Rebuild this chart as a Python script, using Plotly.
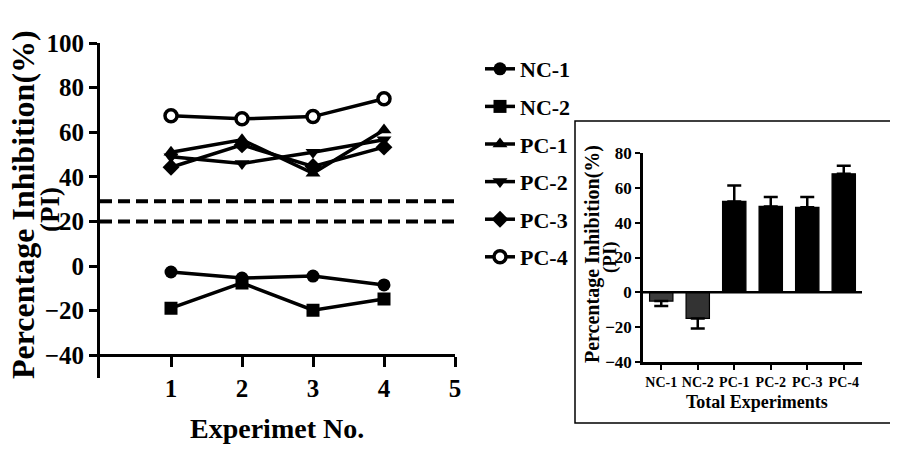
import plotly.graph_objects as go

W, H = 898, 452
OFF = 8  # page body margin offset compensation
def px(x): return (x - OFF) / W
def py(y): return 1 - (y - OFF) / H

# ---------------- data ----------------
experiments = [1, 2, 3, 4]
series_names = ["NC-1", "NC-2", "PC-1", "PC-2", "PC-3", "PC-4"]
nc1 = [-2.7, -5.4, -4.5, -8.5]
nc2 = [-18.9, -7.6, -19.8, -14.8]
pc1 = [51.0, 56.6, 41.6, 61.0]
pc2 = [49.0, 46.0, 51.0, 56.6]
pc3 = [44.3, 54.3, 44.6, 53.3]
pc4 = [67.4, 66.0, 67.0, 75.0]
thresholds = [29, 20]

bar_categories = ["NC-1", "NC-2", "PC-1", "PC-2", "PC-3", "PC-4"]
bar_means = [-5.0, -15.0, 52.2, 49.3, 48.8, 68.1]
bar_errors = [2.9, 5.7, 9.2, 5.4, 5.9, 4.6]

main_yticks = [-40, -20, 0, 20, 40, 60, 80, 100]
main_xticks = [1, 2, 3, 4, 5]
inset_yticks = [-40, -20, 0, 20, 40, 60, 80]

FONT = "Liberation Serif"
symbols = ["circle", "square", "triangle-up", "triangle-down", "diamond", "circle"]
all_series = [nc1, nc2, pc1, pc2, pc3, pc4]

fig = go.Figure()
for i, (name, vals, sym) in enumerate(zip(series_names, all_series, symbols)):
    open_marker = name == "PC-4"
    fig.add_trace(go.Scatter(
        x=experiments, y=vals, name=name, mode="lines+markers",
        legendgroup=name,
        line=dict(color="black", width=3.5),
        marker=dict(symbol=sym, size=12 if open_marker else 13,
                    color="white" if open_marker else "black",
                    line=dict(color="black", width=3.5 if open_marker else 0)),
        xaxis="x", yaxis="y",
    ))

# inset bars
bar_colors = ["#3d3d3d", "#333333", "black", "black", "black", "black"]
err_plus = [e if m > 0 else 0 for m, e in zip(bar_means, bar_errors)]
err_minus = [e if m < 0 else 0 for m, e in zip(bar_means, bar_errors)]
fig.add_trace(go.Bar(
    x=bar_categories, y=bar_means, width=0.64, showlegend=False,
    marker=dict(color=bar_colors, line=dict(color="black", width=1.2)),
    error_y=dict(type="data", symmetric=False, array=err_plus, arrayminus=err_minus,
                 color="black", thickness=2.5, width=7),
    xaxis="x2", yaxis="y2",
))

shapes = []
for t in thresholds:
    shapes.append(dict(type="line", xref="x", yref="y", x0=0, x1=5, y0=t, y1=t,
                       line=dict(color="black", width=4, dash="12px,6px")))
# zero line in inset
shapes.append(dict(type="line", xref="x2", yref="y2", x0=-0.5, x1=5.5, y0=0, y1=0,
                   line=dict(color="black", width=2.5)))
# inset frame
shapes.append(dict(type="rect", xref="paper", yref="paper",
                   x0=px(575), x1=px(895), y0=py(423), y1=py(121),
                   line=dict(color="black", width=1.5)))

bold = dict(family=FONT, color="black", weight="bold")
annotations = [
    dict(text="Percentage Inhibition(%)", x=px(23), y=py(205), textangle=-90,
         font=dict(size=32, **bold)),
    dict(text="(PI)", x=px(50), y=py(210), textangle=-90, font=dict(size=27, **bold)),
    dict(text="Experimet No.", x=px(277), y=py(428), font=dict(size=28, **bold)),
    dict(text="Percentage Inhibition(%)", x=px(593), y=py(254), textangle=-90,
         font=dict(size=20, **bold)),
    dict(text="(PI)", x=px(610), y=py(257), textangle=-90, font=dict(size=19, **bold)),
    dict(text="Total Experiments", x=px(757), y=py(402), font=dict(size=18, **bold)),
]
for a in annotations:
    a.update(xref="paper", yref="paper", showarrow=False, xanchor="center", yanchor="middle")

fig.update_layout(
    width=W, height=H, margin=dict(l=0, r=0, t=0, b=0, autoexpand=False),
    paper_bgcolor="white", plot_bgcolor="white",
    font=dict(family=FONT, color="black"),
    xaxis=dict(domain=[px(100), px(455)], range=[0, 5], tickvals=main_xticks,
               anchor="free", position=py(355.2), showgrid=False, zeroline=False,
               showline=True, linecolor="black", linewidth=3,
               ticks="outside", ticklen=10, tickwidth=3, tickcolor="black",
               tickfont=dict(size=25, **bold)),
    yaxis=dict(domain=[py(377.5), py(43)], range=[-50, 100], tickvals=main_yticks,
               anchor="x", showgrid=False, zeroline=False,
               showline=True, linecolor="black", linewidth=3,
               ticks="outside", ticklen=8, tickwidth=3, tickcolor="black",
               tickfont=dict(size=25, **bold)),
    xaxis2=dict(domain=[px(643), px(862)], range=[-0.5, 5.5], anchor="y2",
                showgrid=False, zeroline=False, showline=True, linecolor="black",
                linewidth=2.5, ticks="outside", ticklen=5, tickwidth=2, tickcolor="black",
                tickfont=dict(size=14, **bold), type="category"),
    yaxis2=dict(domain=[py(362), py(153)], range=[-40, 80], tickvals=inset_yticks,
                anchor="x2", showgrid=False, zeroline=False, showline=True,
                linecolor="black", linewidth=2.5, ticks="outside", ticklen=5,
                tickwidth=2, tickcolor="black", tickfont=dict(size=17, **bold)),
    legend=dict(x=px(480), y=py(48), xanchor="left", yanchor="top",
                font=dict(size=22, **bold), tracegroupgap=6,
                bgcolor="rgba(0,0,0,0)", itemwidth=30),
    shapes=shapes, annotations=annotations,
)

fig.write_html("out.html")
